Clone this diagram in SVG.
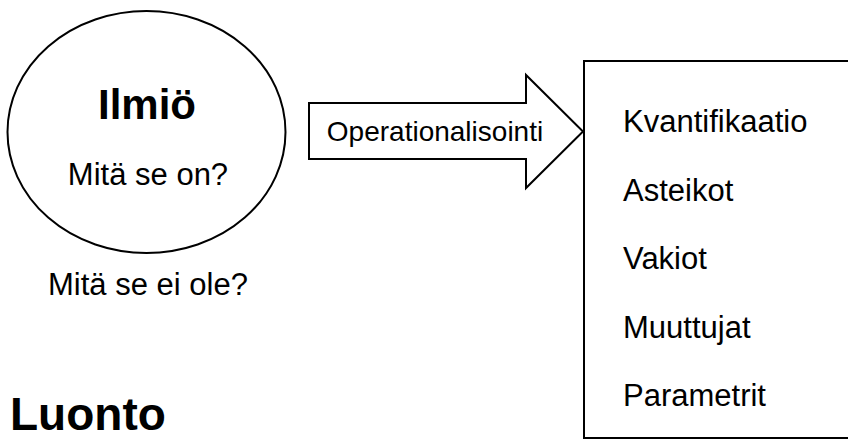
<svg xmlns="http://www.w3.org/2000/svg" width="848" height="439" viewBox="0 0 848 439">
<style>
.ln{fill:#fff;stroke:#000;stroke-width:2}
.t{font-family:"Liberation Sans",Arial,sans-serif;fill:#000}
.b{font-weight:bold}
</style>
<rect width="848" height="439" fill="#fff"/>
<g id="ilmio">
<ellipse class="ln" cx="146.5" cy="132" rx="139" ry="121"/>
<text class="t b" x="147" y="119" font-size="42" text-anchor="middle">Ilmiö</text>
<text class="t" x="148" y="185" font-size="31" text-anchor="middle">Mitä se on?</text>
</g>
<g id="ei-ole">
<text class="t" x="148" y="295" font-size="31" text-anchor="middle">Mitä se ei ole?</text>
</g>
<g id="connectors">
<polygon id="operationalisointi" class="ln" points="309,103 526,103 526,75 583,131.5 526,188 526,159 309,159"/>
<text class="t" x="435" y="141" font-size="28" text-anchor="middle">Operationalisointi</text>
</g>
<g id="lista">
<rect class="ln" x="584" y="61" width="270" height="377"/>
<text class="t" x="623" y="132" font-size="31">Kvantifikaatio</text>
<text class="t" x="623" y="200.5" font-size="31">Asteikot</text>
<text class="t" x="623" y="269" font-size="31">Vakiot</text>
<text class="t" x="623" y="337.5" font-size="31">Muuttujat</text>
<text class="t" x="623" y="406" font-size="31">Parametrit</text>
</g>
<g id="luonto">
<text class="t b" x="10" y="430" font-size="46">Luonto</text>
</g>
</svg>
